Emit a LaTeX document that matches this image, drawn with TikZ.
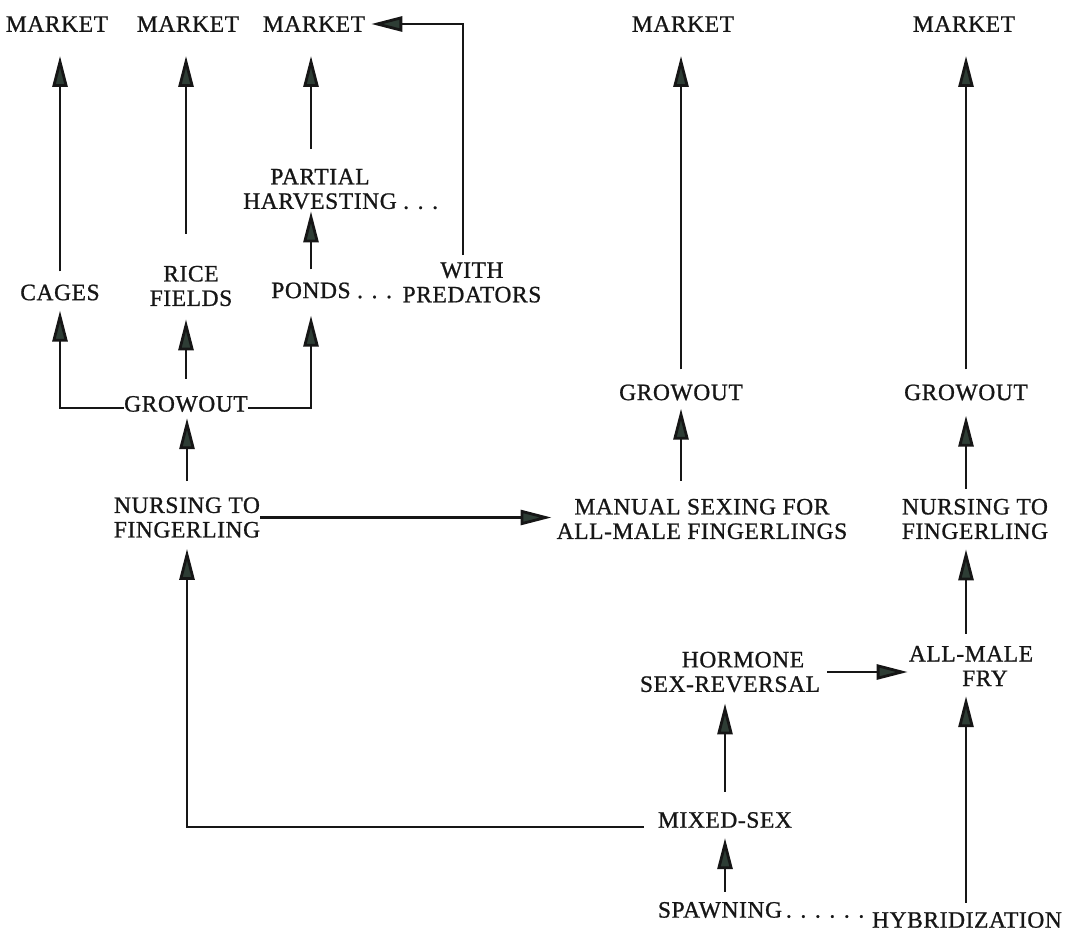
\documentclass[tikz,border=0pt]{standalone}
\usepackage{fontspec}
\newfontfamily\df{Liberation Serif}[LetterSpace=2.5,FakeBold=0.9]
\usetikzlibrary{arrows.meta}
\definecolor{headc}{HTML}{2E3D35}
\definecolor{ink}{HTML}{161616}
\begin{document}
\begin{tikzpicture}[x=1pt,y=-1pt,
  lab/.style={inner sep=0pt, font=\df\fontsize{23.5}{24.5}\selectfont, align=center, text=ink},
  arr/.style={draw=ink, line width=2.8pt, -{Triangle[length=31pt,width=15pt,fill=headc]}}]
\useasboundingbox (0,0) rectangle (1071,931);
% nodes
\node[lab] (m1) at (57,24) {MARKET};
\node[lab] (m2) at (188,24) {MARKET};
\node[lab] (m3) at (314,24) {MARKET};
\node[lab] (m4) at (683,24) {MARKET};
\node[lab] (m5) at (964,24) {MARKET};
\node[lab] (cages) at (60,292.5) {CAGES};
\node[lab] (rice) at (191,286) {RICE\\FIELDS};
\node[lab] (ponds) at (311,290.5) {PONDS\rlap{ . . .}};
\node[lab] (pred) at (472,282.5) {WITH\\PREDATORS};
\node[lab] (partial) at (320,189) {PARTIAL\\HARVESTING\rlap{ . . .}};
\node[lab] (g1) at (186,404) {GROWOUT};
\node[lab] (n1) at (187,517.5) {NURSING TO\\FINGERLING};
\node[lab] (manual) at (702,519) {MANUAL SEXING FOR\\ALL-MALE FINGERLINGS};
\node[lab] (g2) at (681,392.5) {GROWOUT};
\node[lab] (g3) at (966,392.5) {GROWOUT};
\node[lab] (n2) at (975,519) {NURSING TO\\FINGERLING};
\node[lab] (male) at (971,666) {ALL-MALE\\\hspace*{28pt}FRY};
\node[lab] (horm) at (730,672) {\hspace*{26pt}HORMONE\\SEX-REVERSAL};
\node[lab] (mixed) at (725,820) {MIXED-SEX};
\node[lab] (spawn) at (720,910) {SPAWNING\rlap{\,. . . . . .}};
\node[lab] (hyb) at (967,920) {HYBRIDIZATION};
% connectors
\draw[arr, shorten <=13pt, shorten >=24pt] (cages.north) -- (cages.north |- m1.south);
\draw[arr, shorten <=32pt, shorten >=24pt] (g1.north |- rice.north) -- (g1.north |- m2.south);
\draw[arr, shorten <=20pt, shorten >=24pt] (ponds.north |- partial.north) -- (ponds.north |- m3.south);
\draw[arr, shorten <=7pt, shorten >=6pt] ([xshift=-9pt]pred.north) |- (m3.east);
\draw[arr, shorten <=13pt, shorten >=2pt] (ponds.north) -- (ponds.north |- partial.south);
\draw[arr, shorten >=10pt] ([yshift=-4pt]g1.west) -| (cages.south);
\draw[arr, shorten <=17pt, shorten >=13pt] (g1.north) -- (g1.north |- rice.south);
\draw[arr, shorten >=17pt] ([yshift=-4pt]g1.east) -| (ponds.south);
\draw[arr, shorten <=16pt, shorten >=6pt] (n1.north) -- (n1.north |- g1.south);
\draw[arr, shorten >=5pt] (n1.east) -- (n1.east -| manual.west);
\draw[arr, shorten <=18pt, shorten >=8pt] (g2.south |- manual.north) -- (g2.south);
\draw[arr, shorten <=15pt, shorten >=24pt] (g2.north) -- (g2.north |- m4.south);
\draw[arr, shorten <=10pt, shorten >=15pt] (g3.south |- n2.north) -- (g3.south);
\draw[arr, shorten <=15pt, shorten >=24pt] (g3.north) -- (g3.north |- m5.south);
\draw[arr, shorten <=12pt, shorten >=10pt] (g3.south |- male.north) -- (g3.south |- n2.south);
\draw[arr, shorten <=7pt, shorten >=1pt] (horm.east) -- (horm.east -| male.west);
\draw[arr, shorten <=20pt, shorten >=11pt] (mixed.north) -- (mixed.north |- horm.south);
\draw[arr, shorten <=14pt, shorten >=11pt] ([yshift=-7pt]mixed.west) -| (n1.south);
\draw[arr, shorten <=10pt, shorten >=10pt] (mixed.north |- spawn.north) -- (mixed.south);
\draw[arr, shorten <=9pt, shorten >=10pt] (g3.south |- hyb.north) -- (g3.south |- male.south);
\end{tikzpicture}
\end{document}
